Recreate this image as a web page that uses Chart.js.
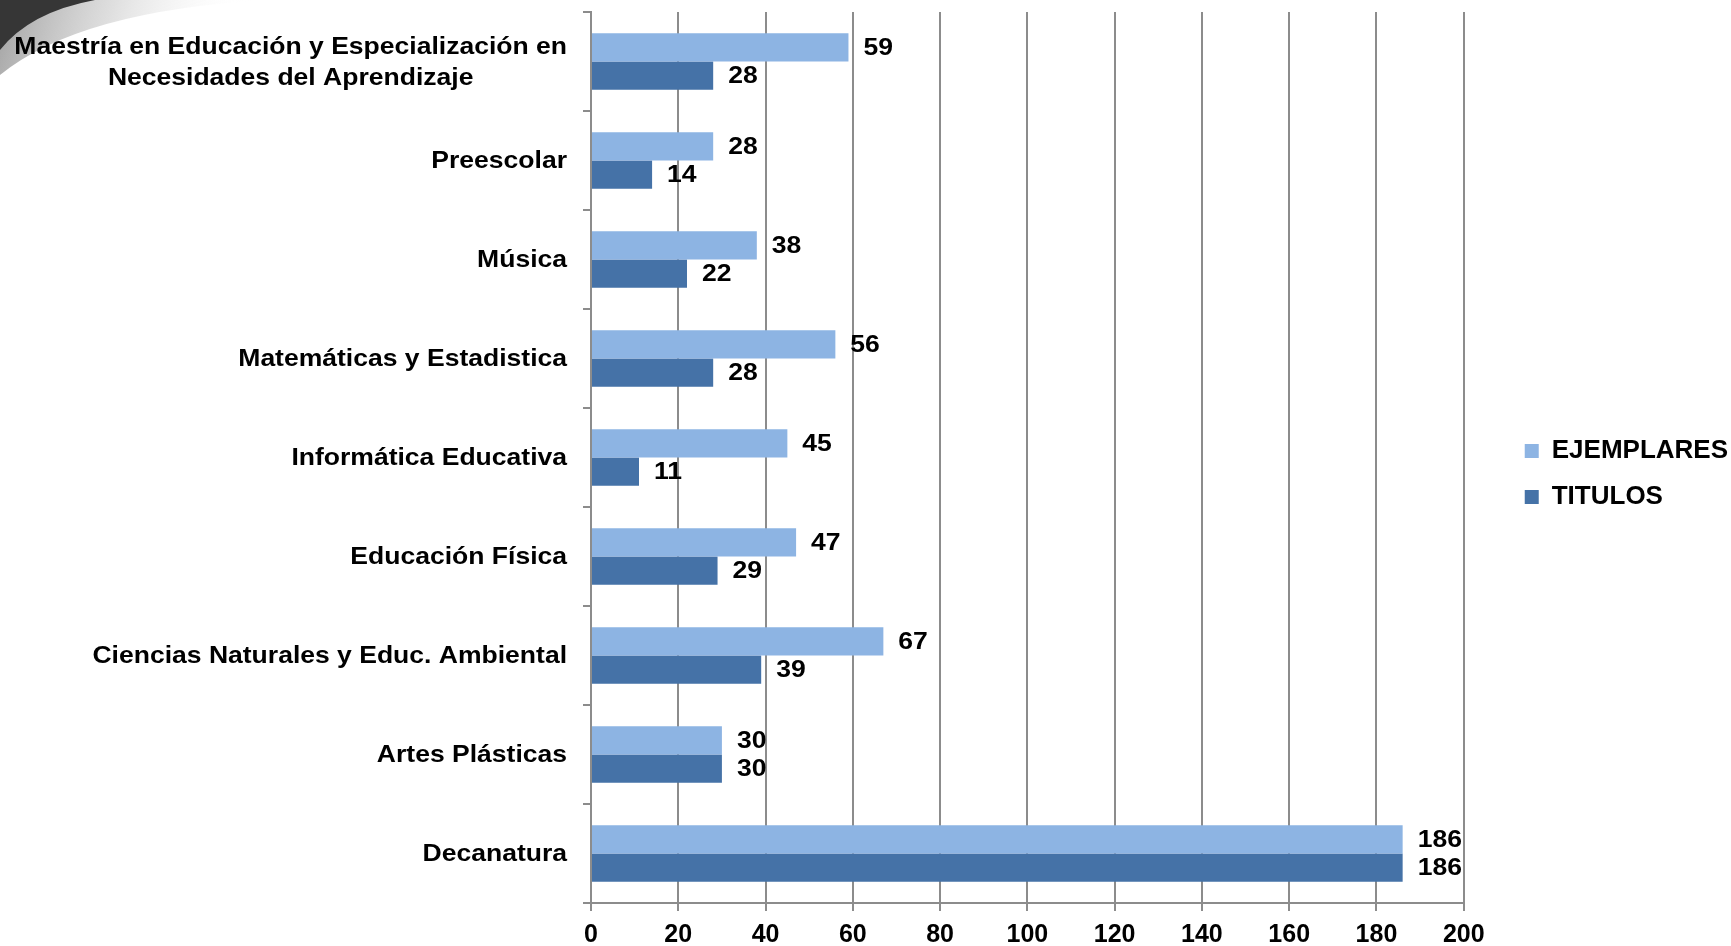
<!DOCTYPE html>
<html>
<head>
<meta charset="utf-8">
<script src="https://cdn.jsdelivr.net/npm/chart.js@4.4.1/dist/chart.umd.min.js"></script>
<style>
  html, body { margin: 0; padding: 0; background: #ffffff; }
  #wrap { width: 1731px; height: 946px; position: relative; }
</style>
</head>
<body>
<div id="wrap"><canvas id="c" width="1731" height="946"></canvas></div>
<script>
// ---- data ----
const categories = [
  ['Maestría en Educación y Especialización en', 'Necesidades del Aprendizaje'],
  'Preescolar',
  'Música',
  'Matemáticas y Estadistica',
  'Informática Educativa',
  'Educación Física',
  'Ciencias Naturales y Educ. Ambiental',
  'Artes Plásticas',
  'Decanatura'
];
const ejemplares = [59, 28, 38, 56, 45, 47, 67, 30, 186];
const titulos    = [28, 14, 22, 28, 11, 29, 39, 30, 186];
const seriesNames = ['EJEMPLARES', 'TITULOS'];
const xMin = 0, xMax = 200, xStep = 20;

// ---- style ----
const FONT = '"Liberation Sans", Arial, sans-serif';
const GRID = '#8c8c8c';
const LIGHT = '#8db4e3';
const DARK = '#4572a7';
const SX = 1.105; // horizontal stretch of the slide text

const decoration = {
  id: 'decoration',
  beforeDraw(chart) {
    const ctx = chart.ctx;
    ctx.save();
    const g = ctx.createLinearGradient(0, 0, 230, 70);
    g.addColorStop(0, 'rgba(150,150,150,0.9)');
    g.addColorStop(0.45, 'rgba(200,200,200,0.6)');
    g.addColorStop(1, 'rgba(255,255,255,0)');
    ctx.beginPath();
    ctx.moveTo(0, 0);
    ctx.lineTo(270, 0);
    ctx.quadraticCurveTo(80, 10, 0, 75);
    ctx.closePath();
    ctx.fillStyle = g;
    ctx.fill();
    ctx.beginPath();
    ctx.moveTo(0, 0);
    ctx.lineTo(95, 0);
    ctx.quadraticCurveTo(30, 12, 0, 50);
    ctx.closePath();
    ctx.fillStyle = '#363636';
    ctx.fill();
    ctx.restore();
  }
};

const yLabels = {
  id: 'yLabels',
  afterDraw(chart) {
    const ys = chart.scales.y;
    const ctx = chart.ctx;
    ctx.save();
    ctx.font = 'bold 24px ' + FONT;
    ctx.fillStyle = '#000';
    ctx.textBaseline = 'middle';
    ctx.textAlign = 'center';
    const xRight = ys.right - 24;
    const lh = 31;
    ctx.scale(SX, 1);
    chart.data.labels.forEach((lab, i) => {
      const y = ys.getPixelForValue(i);
      const lines = Array.isArray(lab) ? lab : [lab];
      const w = Math.max(...lines.map(l => ctx.measureText(l).width)) * SX;
      const cx = xRight - w / 2;
      lines.forEach((l, j) => ctx.fillText(l, cx / SX, y + 1 + (j - (lines.length - 1) / 2) * lh));
    });
    ctx.restore();
  }
};

const valueLabels = {
  id: 'valueLabels',
  afterDatasetsDraw(chart) {
    const ctx = chart.ctx;
    ctx.save();
    ctx.font = 'bold 24px ' + FONT;
    ctx.fillStyle = '#000';
    ctx.textBaseline = 'middle';
    ctx.textAlign = 'left';
    ctx.scale(SX, 1);
    chart.data.datasets.forEach((ds, di) => {
      const meta = chart.getDatasetMeta(di);
      meta.data.forEach((bar, i) => {
        ctx.fillText(String(ds.data[i]), (bar.x + 15) / SX, bar.y + 1);
      });
    });
    ctx.restore();
  }
};

const legendPos = {
  id: 'legendPos',
  afterLayout(chart) {
    const lg = chart.legend;
    if (!lg) return;
    const dx = (chart.chartArea.right + 41) - lg.left;
    lg.left += dx; lg.right += dx;
    const dy = -5;
    lg.top += dy; lg.bottom += dy;
  }
};

new Chart(document.getElementById('c'), {
  type: 'bar',
  data: {
    labels: categories,
    datasets: [
      { label: seriesNames[0], data: ejemplares, backgroundColor: LIGHT, borderWidth: 0 },
      { label: seriesNames[1], data: titulos, backgroundColor: DARK, borderWidth: 0 }
    ]
  },
  options: {
    indexAxis: 'y',
    responsive: false,
    animation: false,
    devicePixelRatio: 1,
    layout: { padding: { top: 12, right: 34, bottom: 0, left: 0 } },
    datasets: { bar: { categoryPercentage: 0.57, barPercentage: 1.0 } },
    scales: {
      x: {
        type: 'linear',
        min: xMin, max: xMax,
        ticks: { stepSize: xStep, color: '#000', padding: 12,
                 font: { family: FONT, size: 25, weight: 'bold', lineHeight: 1 } },
        grid: { color: GRID, lineWidth: 2, tickLength: 8, drawTicks: true },
        border: { color: GRID, width: 2 },
        afterFit(scale) { scale.height = 43; }
      },
      y: {
        type: 'category',
        offset: true,
        ticks: { display: false },
        grid: { offset: true, drawOnChartArea: false, drawTicks: true, tickLength: 8, color: GRID, lineWidth: 2 },
        border: { color: GRID, width: 2 },
        afterFit(scale) { scale.width = 591; }
      }
    },
    plugins: {
      legend: {
        position: 'right',
        align: 'center',
        labels: {
          color: '#000',
          font: { family: FONT, size: 26, weight: 'bold' },
          boxWidth: 14, boxHeight: 14, padding: 20
        }
      },
      tooltip: { enabled: false },
      title: { display: false }
    }
  },
  plugins: [decoration, valueLabels, yLabels, legendPos]
});
</script>
</body>
</html>
